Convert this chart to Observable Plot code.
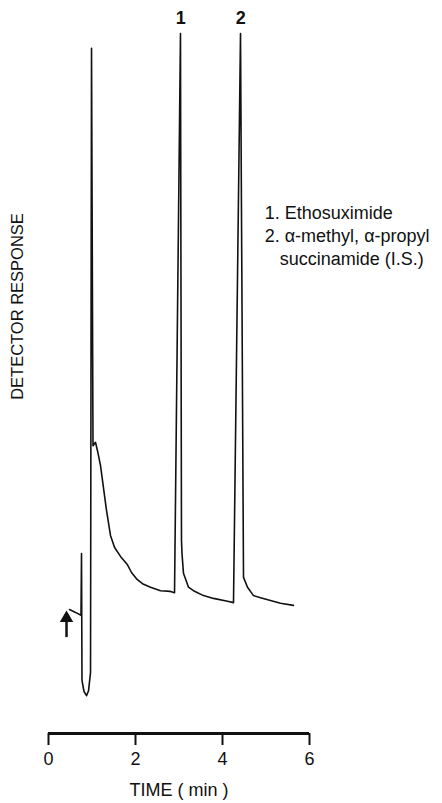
<!DOCTYPE html>
<html>
<head>
<meta charset="utf-8">
<script src="https://cdn.jsdelivr.net/npm/d3@7"></script>
<script src="https://cdn.jsdelivr.net/npm/@observablehq/plot@0.6"></script>
<style>
  html, body { margin: 0; padding: 0; background: #fff; }
  #chart { width: 442px; height: 803px; }
</style>
</head>
<body>
<div id="chart"></div>
<script>
// Chromatogram trace: time (min) and detector response (arbitrary units)
const time = [0.483, 0.621, 0.747, 0.759, 0.770, 0.816, 0.874, 0.920, 0.966, 0.989, 1.023, 1.080, 1.126, 1.195, 1.264, 1.333, 1.425, 1.517, 1.655, 1.816, 1.908, 2.023, 2.161, 2.345, 2.575, 2.805, 2.897, 3.034, 3.057, 3.069, 3.103, 3.218, 3.333, 3.563, 3.793, 4.115, 4.253, 4.414, 4.483, 4.575, 4.713, 4.874, 5.103, 5.333, 5.632];
const response = [17.7, 17.3, 16.9, 25.7, 7.6, 6.0, 5.4, 6.1, 8.7, 97.9, 41.1, 41.6, 40.4, 38.3, 35.1, 31.9, 28.3, 26.6, 25.3, 24.1, 23.0, 22.1, 21.4, 20.9, 20.4, 20.3, 20.1, 100, 27.6, 25.7, 22.9, 20.9, 20.4, 19.7, 19.3, 18.9, 18.7, 100, 22.3, 20.9, 19.7, 19.4, 19.0, 18.6, 18.3];

// Peak labels
const peakLabels = ["1", "2"];
const peakTimes = [3.04, 4.42];
const peakHeights = [100, 100];

// Injection arrow
const injectTime = [0.414];
const injectFrom = [13.7];
const injectTo = [16.9];

// Tick labels
const xTicks = [0, 2, 4, 6];

// Text
const xLabel = "TIME ( min )";
const yLabel = "DETECTOR RESPONSE";
const legendLines = ["1. Ethosuximide", "2. \u03b1-methyl, \u03b1-propyl", "succinamide (I.S.)"];

const trace = time.map((t, i) => ({t, r: response[i]}));
const peaks = peakLabels.map((l, i) => ({l, t: peakTimes[i], r: peakHeights[i]}));
const arrow = injectTime.map((t, i) => ({t, r1: injectFrom[i], r2: injectTo[i]}));

const FONT = "'Liberation Sans', Arial, Helvetica, sans-serif";
const INK = "#111";

const chart = Plot.plot({
  width: 442,
  height: 803,
  marginLeft: 48,
  marginRight: 133,
  marginTop: 33,
  marginBottom: 70,
  style: {fontFamily: FONT, color: INK, background: "#fff", overflow: "visible"},
  x: {domain: [0, 6]},
  y: {domain: [0, 100], axis: null},
  marks: [
    Plot.ruleY([0], {stroke: INK, strokeWidth: 3}),
    Plot.axisX({
      ticks: xTicks, tickSize: 12, tickPadding: 7, strokeWidth: 2,
      fontSize: 18, label: xLabel, labelAnchor: "center", labelArrow: "none",
      labelOffset: 62, tickFormat: d => String(d)
    }),
    Plot.line(trace, {x: "t", y: "r", stroke: INK, strokeWidth: 1.6, curve: "linear"}),
    Plot.text(peaks, {x: "t", y: "r", text: "l", dy: -15, fontSize: 18, fontWeight: "bold", fill: INK}),
    Plot.ruleX(arrow, {x: "t", y1: "r1", y2: "r2", stroke: INK, strokeWidth: 2.5}),
    Plot.dot(arrow, {x: "t", y: "r2", symbol: "triangle", r: 5, fill: INK, stroke: "none", dy: 3}),
    Plot.text([yLabel], {frameAnchor: "left", textAnchor: "middle", y: () => 61, dx: -31, rotate: -90, fontSize: 16.5, fill: INK}),
    Plot.text(legendLines.slice(0, 2), {
      x: () => 4.97, y: (d, i) => 74.29 - 3.29 * i, textAnchor: "start", fontSize: 18, fill: INK
    }),
    Plot.text(legendLines.slice(2), {
      x: () => 4.97, y: () => 67.71, dx: 15, textAnchor: "start", fontSize: 18, fill: INK
    })
  ]
});

document.getElementById("chart").appendChild(chart);
</script>
</body>
</html>
